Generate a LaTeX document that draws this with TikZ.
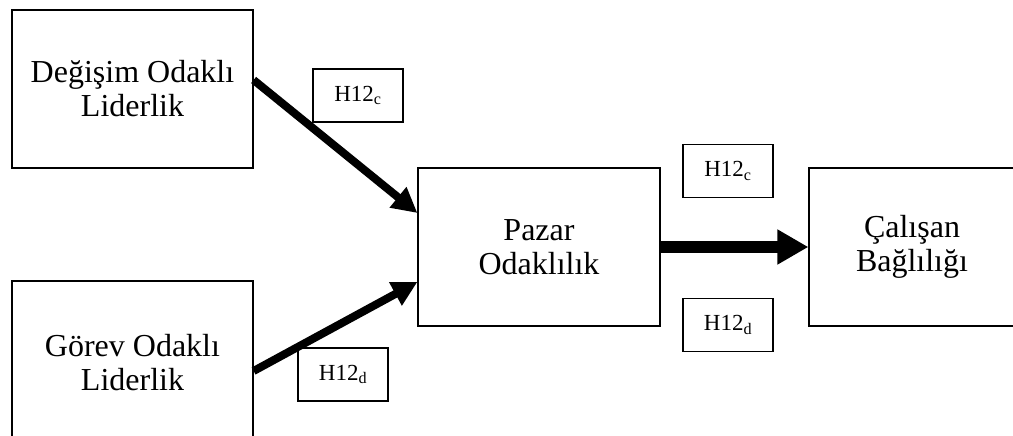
\documentclass[tikz,border=0pt]{standalone}
\usepackage{fontspec}
\setmainfont{Liberation Serif}
\usetikzlibrary{arrows.meta}

\begin{document}
\begin{tikzpicture}[x=1pt, y=-1pt,
    box/.style={draw, line width=1.2pt, inner sep=0pt, align=center,
      font=\fontsize{32}{34}\selectfont},
    hyp/.style={draw, line width=1.2pt, inner sep=0pt, minimum width=90pt,
      minimum height=53pt, font=\fontsize{23}{26}\selectfont},
    link/.style={line width=8pt, -{Triangle[length=25pt, width=25pt]}}]
  \useasboundingbox (0,0) rectangle (1013,436);
  \clip (0,0) rectangle (1013,436);

  % Leadership boxes
  \node (change)[box, minimum width=241pt, minimum height=158pt] at (132.5,89)
    {Değişim Odaklı\\Liderlik};
  \node (task)[box, minimum width=241pt, minimum height=164pt] at (132.5,363)
    {Görev Odaklı\\Liderlik};

  % Middle and right boxes
  \node (market)[box, minimum width=242pt, minimum height=158pt] at (539,247)
    {Pazar\\Odaklılık};
  \node (engage)[box, minimum width=206pt, minimum height=158pt] at (912,247)
    {Çalışan\\Bağlılığı};

  % Hypothesis labels
  \node (hc1)[hyp] at (358,95.5) {H12\textsubscript{c}};
  \node (hd1)[hyp] at (343,374.5) {H12\textsubscript{d}};
  \node (hc2)[hyp] at (728,171) {H12\textsubscript{c}};
  \node (hd2)[hyp] at (728,325) {H12\textsubscript{d}};

  % Arrows
  \draw[link] ([yshift=9pt]change.east) -- ([yshift=34pt]market.west);
  \draw[link] ([yshift=-8pt]task.east) -- ([yshift=-35pt]market.west);
  \draw[line width=12pt, -{Triangle[length=31pt, width=33pt]}]
    (market.east) -- (engage.west);
\end{tikzpicture}
\end{document}
